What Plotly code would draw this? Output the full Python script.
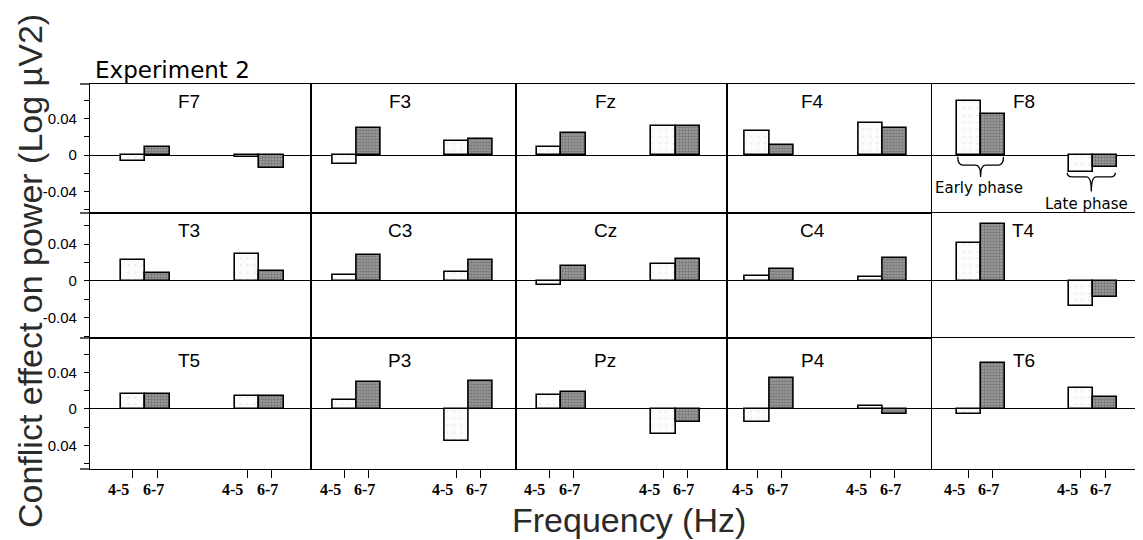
import plotly.graph_objects as go
from plotly.subplots import make_subplots

# ---------------- data ----------------
ELECTRODES = [
    ["F7", "F3", "Fz", "F4", "F8"],
    ["T3", "C3", "Cz", "C4", "T4"],
    ["T5", "P3", "Pz", "P4", "T6"],
]
FREQ_LABELS = ["4-5", "6-7"]
PHASES = ["Early phase", "Late phase"]

# conflict effect (Log uV2) per electrode, [row][col]
EARLY_45 = [
    [-0.007, -0.010, 0.009, 0.026, 0.059],
    [0.023, 0.006, -0.0047, 0.0055, 0.041],
    [0.0164, 0.0102, 0.015, -0.0146, -0.006],
]
EARLY_67 = [
    [0.009, 0.029, 0.024, 0.011, 0.045],
    [0.009, 0.028, 0.0164, 0.0128, 0.062],
    [0.0164, 0.029, 0.019, 0.034, 0.050],
]
LATE_45 = [
    [-0.002, 0.015, 0.032, 0.035, -0.019],
    [0.0295, 0.010, 0.0186, 0.004, -0.027],
    [0.0146, -0.0353, -0.027, 0.003, 0.0233],
]
LATE_67 = [
    [-0.014, 0.0175, 0.032, 0.030, -0.013],
    [0.011, 0.0226, 0.0234, 0.0244, -0.017],
    [0.0146, 0.031, -0.0146, -0.006, 0.0128],
]

Y_TICKVALS = [-0.06, -0.04, -0.02, 0, 0.02, 0.04, 0.06]
Y_TICKTEXT = [
    ["", "-0.04", "", "0", "", "0.04", ""],
    ["", "-0.04", "", "0", "", "0.04", ""],
    ["", "0.04", "", "0", "", "0.04", ""],
]

# ---------------- layout config ----------------
GROUP_POS = [0.0, 4.67]          # category slots of early / late phase
FREQ_OFFSET = [0.0, 1.0]         # 4-5 Hz, 6-7 Hz within a phase
LABEL_SHIFT = [-0.58, -0.17]     # tick-label placement relative to tick
X_RANGES = [[-1.75, 7.27], [-1.42, 7.16], [-1.35, 7.25], [-1.25, 7.2], [-1.52, 7.04]]
Y_RANGES = [[-0.0634, 0.0776], [-0.062, 0.0738], [-0.0656, 0.0776]]

# page has an 8px body margin; figure fills the rest of the 1143x540 window
W, H = 1135, 532
ML, MR, MT, MB = 82, 5, 76, 71
# reference-pixel frame of plot area
RX0, RX1, RY0, RY1 = 90, 1138, 84, 469


def rx(px):
    return (px - RX0) / (RX1 - RX0)


def ry(py):
    return (RY1 - py) / (RY1 - RY0)


fig = make_subplots(
    rows=3, cols=5,
    column_widths=[220.7, 205.3, 210.7, 205.3, 206.0],
    row_heights=[129, 125, 131],
    horizontal_spacing=0, vertical_spacing=0,
)

WHITE = dict(color="#fcfcfc", line=dict(color="black", width=1.6),
             pattern=dict(shape=".", fgcolor="#dddddd", bgcolor="#fcfcfc", size=7, solidity=0.1))
GRAY = dict(color="#8c8c8c", line=dict(color="black", width=1.6),
            pattern=dict(shape=".", fgcolor="#4a4a4a", bgcolor="#a0a0a0", size=3, solidity=0.5))

for r in range(3):
    for c in range(5):
        v45 = [EARLY_45[r][c], LATE_45[r][c]]
        v67 = [EARLY_67[r][c], LATE_67[r][c]]
        fig.add_trace(go.Bar(x=[g + FREQ_OFFSET[0] for g in GROUP_POS], y=v45, width=1.0,
                             marker=WHITE, showlegend=False, hoverinfo="skip"),
                      row=r + 1, col=c + 1)
        fig.add_trace(go.Bar(x=[g + FREQ_OFFSET[1] for g in GROUP_POS], y=v67, width=1.0,
                             marker=GRAY, showlegend=False, hoverinfo="skip"),
                      row=r + 1, col=c + 1)

        tickvals = [g + o for g in GROUP_POS for o in FREQ_OFFSET]
        fig.update_xaxes(
            range=X_RANGES[c], showgrid=False, zeroline=False,
            showline=True, mirror=True, linecolor="black", linewidth=1.1,
            tickvals=tickvals, showticklabels=False,
            ticks="outside" if r == 2 else "",
            ticklen=8, tickwidth=1.3, tickcolor="black",
            row=r + 1, col=c + 1,
        )
        fig.update_yaxes(
            range=Y_RANGES[r], showgrid=False,
            zeroline=True, zerolinecolor="black", zerolinewidth=1.3,
            showline=True, mirror=True, linecolor="black", linewidth=1.1,
            tickvals=Y_TICKVALS, ticktext=Y_TICKTEXT[r],
            showticklabels=(c == 0), ticks="outside" if c == 0 else "",
            ticklen=5, tickwidth=1.2, tickcolor="black", ticklabelstandoff=4,
            tickfont=dict(family="Liberation Sans, Arial, sans-serif", size=15, color="black"),
            row=r + 1, col=c + 1,
        )
        fig.add_annotation(
            text=ELECTRODES[r][c], x=2.3, y=1, xref="x", yref="y domain",
            yshift=-17 if r < 2 else -22, showarrow=False, yanchor="middle",
            font=dict(family="Liberation Sans, Arial, sans-serif", size=19, color="black"),
            row=r + 1, col=c + 1,
        )
        if r == 2:
            for g in GROUP_POS:
                for f, lab in enumerate(FREQ_LABELS):
                    fig.add_annotation(
                        text=lab, x=g + FREQ_OFFSET[f] + LABEL_SHIFT[f], y=0,
                        xref="x", yref="y domain", yshift=-20, showarrow=False,
                        yanchor="middle", borderpad=0,
                        font=dict(family="Liberation Serif, Times New Roman, serif",
                                  size=16, color="black", weight="bold"),
                        row=r + 1, col=c + 1,
                    )

fig.update_layout(barmode="overlay")


# braces marking phases in F8 panel
def brace(x0, x1, ytop, ymid, ytip):
    xm = (x0 + x1) / 2
    d = 0.2
    return (f"M {x0},{ytop} Q {x0},{ymid} {x0 + d},{ymid} L {xm - d},{ymid} "
            f"Q {xm},{ymid} {xm},{ytip} Q {xm},{ymid} {xm + d},{ymid} "
            f"L {x1 - d},{ymid} Q {x1},{ymid} {x1},{ytop}")


fig.add_shape(type="path", path=brace(-0.45, 1.45, -0.002, -0.011, -0.024),
              line=dict(color="black", width=1.3), row=1, col=5)
fig.add_shape(type="path", path=brace(4.1, 6.1, -0.0195, -0.024, -0.040),
              line=dict(color="black", width=1.3), row=1, col=5)
fig.add_annotation(text=PHASES[0], x=0.45, y=-0.0365, showarrow=False,
                   font=dict(family="DejaVu Sans, sans-serif", size=15, color="black"),
                   row=1, col=5)
fig.add_annotation(text=PHASES[1], x=4.92, y=-0.054, showarrow=False,
                   font=dict(family="DejaVu Sans, sans-serif", size=15, color="black"),
                   row=1, col=5)

# short extensions of the horizontal frame lines to the left
for py in [84, 213, 338, 469]:
    fig.add_shape(type="line", xref="paper", yref="paper",
                  x0=rx(80), x1=0, y0=ry(py), y1=ry(py),
                  line=dict(color="black", width=1.3))

fig.add_annotation(text="Experiment 2", xref="paper", yref="paper",
                   x=rx(93), y=ry(70), xanchor="left", yanchor="middle",
                   showarrow=False,
                   font=dict(family="DejaVu Sans, sans-serif", size=23, color="black"))
fig.add_annotation(text="Conflict effect on power (Log µV2)", xref="paper", yref="paper",
                   x=rx(30), y=ry(271), textangle=-90, borderpad=0,
                   xanchor="center", yanchor="middle", showarrow=False,
                   font=dict(family="Liberation Sans, Arial, sans-serif", size=34, color="#2a2a2a"))
fig.add_annotation(text="Frequency (Hz)", xref="paper", yref="paper",
                   x=rx(629), y=ry(520), borderpad=0,
                   xanchor="center", yanchor="middle", showarrow=False,
                   font=dict(family="Liberation Sans, Arial, sans-serif", size=34, color="#2a2a2a"))

fig.update_layout(
    width=W, height=H,
    margin=dict(l=ML, r=MR, t=MT, b=MB),
    paper_bgcolor="white", plot_bgcolor="white",
    bargap=0,
)

fig.write_html("out.html")
